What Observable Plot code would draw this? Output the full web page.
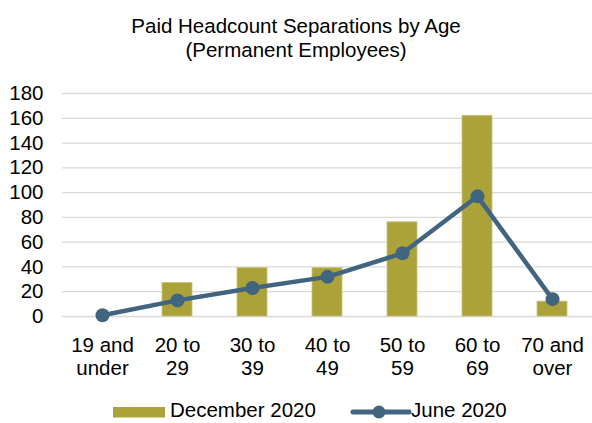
<!DOCTYPE html>
<html>
<head>
<meta charset="utf-8">
<script src="https://cdn.jsdelivr.net/npm/d3@7"></script>
<script src="https://cdn.jsdelivr.net/npm/@observablehq/plot@0.6"></script>
<style>
  body { margin: 0; background: #fff; font-family: "Liberation Sans", Arial, sans-serif; color: #000; }
  #wrap { position: relative; width: 592px; height: 423px; overflow: hidden; }
  #title { position: absolute; left: 0; top: 14px; width: 592px; text-align: center; font-size: 20.5px; line-height: 24px; }
  #chart { position: absolute; left: 0; top: 63px; }
  .leg { position: absolute; font-size: 20.5px; line-height: 24px; white-space: nowrap; }
</style>
</head>
<body>
<div id="wrap">
  <div id="title">Paid Headcount Separations by Age<br>(Permanent Employees)</div>
  <div id="chart"></div>
  <svg class="leg" style="left:113px; top:407px;" width="52" height="11"><rect x="0" y="0" width="52" height="10.5" fill="#ABA23A"></rect></svg>
  <div class="leg" style="left:170px; top:398px; width:170px;">December 2020</div>
  <svg class="leg" style="left:350px; top:403px;" width="62" height="18"><line x1="3" y1="9" x2="59" y2="9" stroke="#41657F" stroke-width="5" stroke-linecap="round"></line><circle cx="29" cy="9" r="6.5" fill="#41657F"></circle></svg>
  <div class="leg" style="left:411px; top:398px; width:130px;">June 2020</div>
</div>
<script>
const categories = ["19 and under", "20 to 29", "30 to 39", "40 to 49", "50 to 59", "60 to 69", "70 and over"];
const tickLabels = ["19 and\nunder", "20 to\n29", "30 to\n39", "40 to\n49", "50 to\n59", "60 to\n69", "70 and\nover"];
const december2020 = [0, 27, 39, 39, 76, 162, 12];
const june2020 = [1, 13, 23, 32, 51, 97, 14];
const yTicks = [0, 20, 40, 60, 80, 100, 120, 140, 160, 180];

const barData = categories.map((c, i) => ({age: c, value: december2020[i]}));
const lineData = categories.map((c, i) => ({age: c, value: june2020[i]}));
const labelOf = new Map(categories.map((c, i) => [c, tickLabels[i]]));

const chart = Plot.plot({
  width: 592,
  height: 320,
  marginLeft: 62,
  marginRight: 0,
  marginTop: 30,
  marginBottom: 67,
  style: {fontFamily: "Liberation Sans, Arial, sans-serif", fontSize: "20.5px", color: "#000", background: "#fff"},
  x: {domain: categories, paddingInner: 0.6, paddingOuter: 0.3, label: null},
  y: {domain: [0, 180], label: null},
  marks: [
    Plot.ruleY(yTicks, {stroke: "#d9d9d9", strokeWidth: 1.3}),
    Plot.barY(barData, {x: "age", y: "value", fill: "#ABA23A", stroke: "#C9C27A", strokeWidth: 0.8}),
    Plot.line(lineData, {x: "age", y: "value", stroke: "#41657F", strokeWidth: 4.5}),
    Plot.dot(lineData, {x: "age", y: "value", fill: "#41657F", r: 7}),
    Plot.axisY({ticks: yTicks, tickSize: 0, tickPadding: 19, fontSize: 20.5, label: null}),
    Plot.axisX({tickSize: 0, tickPadding: 19, fontSize: 20.5, lineHeight: 1.12, tickFormat: d => labelOf.get(d), label: null})
  ]
});
document.getElementById("chart").appendChild(chart);
</script>
</body>
</html>
